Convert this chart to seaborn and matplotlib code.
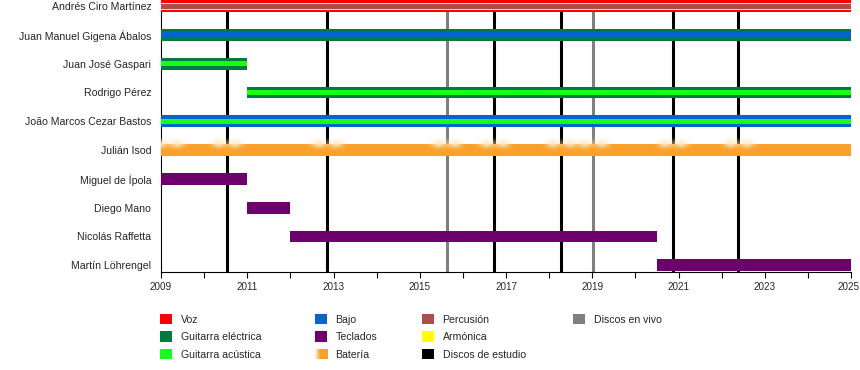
import numpy as np
import seaborn as sns
import matplotlib.pyplot as plt
from matplotlib.patches import Patch, Rectangle
from matplotlib.legend_handler import HandlerBase
from matplotlib.transforms import ScaledTranslation

# band members, top to bottom
members = ['Andrés Ciro Martínez', 'Juan Manuel Gigena Ábalos', 'Juan José Gaspari',
           'Rodrigo Pérez', 'João Marcos Cezar Bastos', 'Julián Isod',
           'Miguel de Ípola', 'Diego Mano', 'Nicolás Raffetta', 'Martín Löhrengel']
start = [2009, 2009, 2009, 2011, 2009, 2009, 2009, 2011, 2012, 2020.5]
end = [2025, 2025, 2011, 2025, 2025, 2025, 2011, 2012, 2020.5, 2025]
# roles per member, outer band first
roles = [['Voz', 'Armónica', 'Percusión'],
         ['Guitarra eléctrica', 'Bajo'],
         ['Guitarra eléctrica', 'Guitarra acústica'],
         ['Guitarra eléctrica', 'Guitarra acústica'],
         ['Bajo', 'Guitarra acústica'],
         ['Batería'],
         ['Teclados'], ['Teclados'], ['Teclados'], ['Teclados']]

studio_albums = [2010.52, 2012.85, 2016.73, 2018.28, 2020.87, 2022.39]
live_albums = [2015.63, 2019.02]

colors = {'Voz': '#ff0000', 'Guitarra eléctrica': '#007a3d', 'Guitarra acústica': '#1aff1a',
          'Bajo': '#0066cc', 'Teclados': '#6e006e', 'Batería': '#f9a12a',
          'Percusión': '#b04c4c', 'Armónica': '#ffff00',
          'Discos de estudio': '#000000', 'Discos en vivo': '#808080'}
legend_cols = [['Voz', 'Guitarra eléctrica', 'Guitarra acústica'],
               ['Bajo', 'Teclados', 'Batería'],
               ['Percusión', 'Armónica', 'Discos de estudio'],
               ['Discos en vivo']]

sns.set_theme(style='white')
plt.rcParams['font.family'] = ['Liberation Sans', 'DejaVu Sans']

fig = plt.figure(figsize=(8.6, 3.7), dpi=100)
ax = fig.add_axes([161 / 860, 98 / 370, 690 / 860, 272 / 370])

bar_h = 0.41
ypos = np.arange(len(members))
for i, (s, e, r) in enumerate(zip(start, end, roles)):
    fracs = [1.0, 0.6, 0.42] if len(r) == 3 else [1.0, 0.46]
    for k, role in enumerate(r):
        ax.barh(i, e - s, left=s, height=bar_h * fracs[k], color=colors[role],
                linewidth=0, zorder=3 + k)

for x in studio_albums:
    ax.axvline(x, color=colors['Discos de estudio'], lw=2.2, zorder=1)
for x in live_albums:
    ax.axvline(x, color=colors['Discos en vivo'], lw=2.2, zorder=1)

# soft light glow along the top of the drum bar around each album line
drum_row = roles.index(['Batería'])
nx, ny = 40, 30
gx = np.linspace(-1, 1, nx)
gy = np.linspace(-1, 1, ny)
alpha = np.exp(-(gx[None, :] / 0.6) ** 2) * np.exp(-((gy[:, None] + 0.05) / 0.6) ** 2) * 0.9
glow = np.zeros((ny, nx, 4))
glow[..., 0] = 1.0
glow[..., 1] = 0.92
glow[..., 2] = 0.78
glow[..., 3] = alpha
top = drum_row - bar_h / 2
for x in [start[drum_row] + 0.18] + studio_albums + live_albums:
    for dx in (-0.19, 0.19):
        ax.imshow(glow, extent=(x + dx - 0.27, x + dx + 0.27, top + 0.24, top - 0.24),
                  aspect='auto', interpolation='bilinear', zorder=6)

ax.set_xlim(2009, 2025)
ax.set_ylim(len(members) - 1 + bar_h / 2 + 0.03, -bar_h / 2 - 0.005)
ax.set_yticks(ypos)
ax.set_yticklabels(members, fontsize=7.6)
ax.set_xticks(np.arange(2009, 2026, 2))
ax.set_xticks(np.arange(2009, 2026, 1), minor=True)
ax.tick_params(axis='x', which='both', direction='out', length=4, width=0.8,
               color='black', labelsize=7.1, pad=3, bottom=True)
ax.tick_params(axis='y', length=0, pad=7)
ax.grid(False)
sns.despine(ax=ax)
for side in ('bottom', 'left'):
    ax.spines[side].set_color('black')
    ax.spines[side].set_linewidth(0.8)

# keep the last year label inside the picture
last = ax.get_xticklabels()[-1]
last.set_transform(last.get_transform() + ScaledTranslation(-3 / 100, 0, fig.dpi_scale_trans))


class GradientHandler(HandlerBase):
    def create_artists(self, legend, orig_handle, xdescent, ydescent, width,
                       height, fontsize, trans):
        base = np.array(plt.matplotlib.colors.to_rgb(orig_handle.get_facecolor()))
        n = 12
        arts = []
        for j in range(n):
            t = min(1.0, (j + 0.5) / (n * 0.45))
            c = (1 - t) * np.ones(3) * 0.97 + t * base
            arts.append(Rectangle((-xdescent + j * width / n, -ydescent), width / n + 0.3,
                                  height, facecolor=c, edgecolor='none', transform=trans))
        return arts


col_x = [160, 315, 422, 573]
for cx, col in zip(col_x, legend_cols):
    handles = [Patch(facecolor=colors[c], edgecolor='none') for c in col]
    hmap = {h: GradientHandler() for h, c in zip(handles, col) if c == 'Batería'}
    fig.legend(handles, col, loc='upper left', bbox_to_anchor=(cx / 860, 1 - 314 / 370),
               frameon=False, borderpad=0, borderaxespad=0, handlelength=1.15,
               handleheight=1.15, handletextpad=0.8, labelspacing=0.62,
               fontsize=7.6, handler_map=hmap)

fig.savefig('out.png', dpi=100)
